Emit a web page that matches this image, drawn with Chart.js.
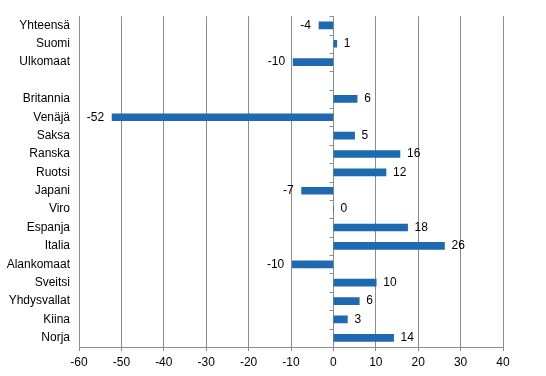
<!DOCTYPE html>
<html>
<head>
<meta charset="utf-8">
<script src="https://cdn.jsdelivr.net/npm/chart.js@4"></script>
<style>
  html, body { margin: 0; padding: 0; background: #fff; }
  #wrap { width: 546px; height: 376px; position: relative; }
</style>
</head>
<body>
<div id="wrap"><canvas id="chart" width="546" height="376"></canvas></div>
<script>
// Kategoriat (tyhjä rivi erottaa ryhmät)
const categories = ['Yhteensä', 'Suomi', 'Ulkomaat', '', 'Britannia', 'Venäjä', 'Saksa', 'Ranska', 'Ruotsi',
    'Japani', 'Viro', 'Espanja', 'Italia', 'Alankomaat', 'Sveitsi', 'Yhdysvallat', 'Kiina', 'Norja'];
// Palkkien arvot luettuna kuvasta
const values = [-3.4, 0.8, -9.5, null, 5.6, -52.2, 5.0, 15.7, 12.4,
    -7.5, 0, 17.5, 26.2, -9.7, 10.1, 6.1, 3.3, 14.2];
// Palkkien päissä näkyvät luvut
const valueLabels = ['-4', '1', '-10', '', '6', '-52', '5', '16', '12',
    '-7', '0', '18', '26', '-10', '10', '6', '3', '14'];
const xTicks = [-60, -50, -40, -30, -20, -10, 0, 10, 20, 30, 40];

const FONT = 'Liberation Sans, Arial, sans-serif';
const GRID = '#8c8c8c';

const valueLabelPlugin = {
    id: 'valueLabels',
    afterDatasetsDraw(chart) {
        const ctx = chart.ctx;
        const meta = chart.getDatasetMeta(0);
        const xScale = chart.scales.x;
        const yScale = chart.scales.y;
        ctx.save();

        // pienet jakoviivat nollalinjalla kategorioiden rajoilla
        const x0 = Math.round(xScale.getPixelForValue(0)) + 0.5;
        ctx.strokeStyle = GRID;
        ctx.lineWidth = 1;
        ctx.beginPath();
        for (let i = 0; i <= categories.length; i++) {
            const y = Math.round(yScale.getPixelForValue(i - 0.5)) + 0.5;
            ctx.moveTo(x0 - 4, y);
            ctx.lineTo(x0, y);
        }
        ctx.stroke();

        ctx.font = '12px ' + FONT;
        ctx.fillStyle = '#000';
        ctx.textBaseline = 'middle';
        meta.data.forEach((bar, i) => {
            if (values[i] === null) return;
            if (values[i] < 0) {
                ctx.textAlign = 'right';
                ctx.fillText(valueLabels[i], bar.x - 8, bar.y);
            } else {
                ctx.textAlign = 'left';
                ctx.fillText(valueLabels[i], bar.x + 7, bar.y);
            }
        });
        ctx.restore();
    }
};

new Chart(document.getElementById('chart').getContext('2d'), {
    type: 'bar',
    data: {
        labels: categories,
        datasets: [{
            data: values,
            backgroundColor: '#1f69b1',
            barThickness: 7,
            borderWidth: 0
        }]
    },
    options: {
        indexAxis: 'y',
        responsive: false,
        animation: false,
        layout: { padding: { left: 0, right: 43, top: 14, bottom: 0 } },
        plugins: { legend: { display: false }, tooltip: { enabled: false } },
        scales: {
            x: {
                min: -60,
                max: 40,
                afterBuildTicks(scale) { scale.ticks = xTicks.map(v => ({ value: v })); },
                afterFit(scale) { scale.height = 29; },
                grid: { color: GRID, lineWidth: 1, tickLength: 4 },
                border: { color: GRID },
                ticks: { color: '#000', font: { family: FONT, size: 12 }, padding: 4, maxRotation: 0 }
            },
            y: {
                afterFit(scale) { scale.width = 79; },
                grid: { display: false, drawTicks: false },
                border: { display: false },
                ticks: { color: '#000', font: { family: FONT, size: 12 }, padding: 9, autoSkip: false }
            }
        }
    },
    plugins: [valueLabelPlugin]
});
</script>
</body>
</html>
